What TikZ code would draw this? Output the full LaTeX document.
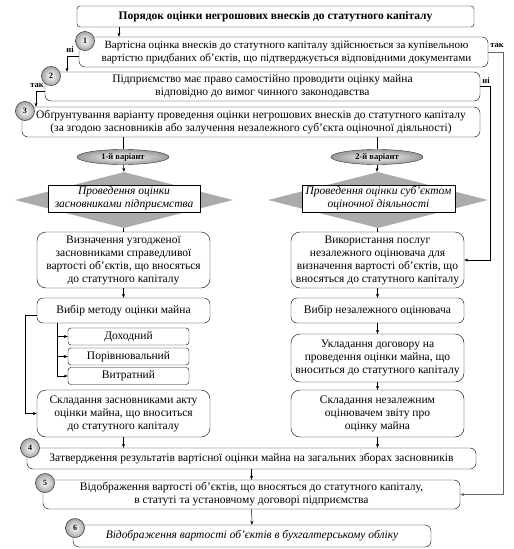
\documentclass[tikz,border=0pt]{standalone}
\usepackage{fontspec}
\setmainfont{Liberation Serif}
\usetikzlibrary{shapes.geometric,arrows.meta}
\newcommand\fsz{\fontsize{11.5}{13}\selectfont}
\begin{document}
\begin{tikzpicture}[x=1pt,y=-1pt,
  box/.style={draw, rounded corners=6pt, align=center, inner sep=0pt, font=\fsz, fill=white},
  sbox/.style={draw, rounded corners=3pt, align=center, inner sep=0pt, font=\fsz, fill=white},
  num/.style={circle, draw=black!75, line width=0.6pt, inner color=white, outer color=black!35, minimum size=19pt, inner sep=0pt, font=\fontsize{8}{9}\selectfont\bfseries},
  var/.style={ellipse, draw=black!80, inner color=white, outer color=black!40, minimum width=92pt, minimum height=15pt, inner sep=0pt, font=\fontsize{8.5}{9}\selectfont\bfseries},
  dia/.style={diamond, fill=black!33, minimum height=56pt, inner sep=0pt},
  irect/.style={draw, fill=white, align=center, inner sep=0pt, font=\fsz\itshape},
  arr/.style={-{Stealth[length=4pt,width=3pt]}, line width=0.5pt},
  ln/.style={line width=0.5pt},
  lab/.style={font=\fontsize{8.5}{9}\selectfont\bfseries, inner sep=0pt}]
\useasboundingbox (0,0) rectangle (514,549);
% top boxes
\node[sbox, minimum width=397pt, minimum height=21pt, font=\fsz\bfseries] (t) at (275.5,16.5) {Порядок оцінки негрошових внесків до статутного капіталу};
\node[box, minimum width=409pt, minimum height=30pt, font=\fontsize{11.1}{13}\selectfont] (b1) at (283.5,52) {\hspace*{6pt}Вартісна оцінка внесків до статутного капіталу здійснюється за купівельною\\\hspace*{6pt}вартістю придбаних об’єктів, що підтверджується відповідними документами};
\node[box, minimum width=435pt, minimum height=29pt] (b2) at (262.5,86.5) {Підприємство має право самостійно проводити оцінку майна\\відповідно до вимог чинного законодавства};
\node[box, minimum width=458pt, minimum height=30pt] (b3) at (251,122) {Обґрунтування варіанту проведення оцінки негрошових внесків до статутного капіталу\\(за згодою засновників або залучення незалежного суб’єкта оціночної діяльності)};
% variants
\node[var] (e1) at (123,157) {1-й варіант};
\node[var] (e2) at (377,157) {2-й варіант};
\node[dia, minimum width=218pt] (d1) at (124,200) {};
\node[dia, minimum width=220pt] (d2) at (378,200) {};
\node[irect, minimum width=152pt, minimum height=27pt] (p1) at (124,198.5) {Проведення оцінки\\засновниками підприємства};
\node[irect, minimum width=153pt, minimum height=27pt] (p2) at (378.5,198.5) {Проведення оцінки суб’єктом\\оціночної діяльності};
% left column
\node[box, rounded corners=9pt, minimum width=173pt, minimum height=56pt] (l1) at (123.5,260) {Визначення узгодженої\\засновниками справедливої\\вартості об’єктів, що вносяться\\до статутного капіталу};
\node[box, minimum width=173pt, minimum height=25pt] (l2) at (123.5,310.5) {Вибір методу оцінки майна};
\node[sbox, minimum width=121pt, minimum height=17pt] (m1) at (128.5,336.5) {Доходний};
\node[sbox, minimum width=121pt, minimum height=17pt] (m2) at (128.5,356.5) {Порівнювальний};
\node[sbox, minimum width=121pt, minimum height=17pt] (m3) at (128.5,376) {Витратний};
\node[box, rounded corners=9pt, minimum width=173pt, minimum height=47pt] (l3) at (123.5,413.5) {Складання засновниками акту\\оцінки майна, що вноситься\\до статутного капіталу};
% right column
\node[box, rounded corners=9pt, minimum width=173pt, minimum height=56pt] (r1) at (377.5,260) {Використання послуг\\незалежного оцінювача для\\визначення вартості об’єктів, що\\вносяться до статутного капіталу};
\node[box, minimum width=173pt, minimum height=25pt] (r2) at (377.5,310.5) {Вибір незалежного оцінювача};
\node[box, rounded corners=9pt, minimum width=173pt, minimum height=48pt] (r3) at (377.5,358) {Укладання договору на\\проведення оцінки майна, що\\вноситься до статутного капіталу};
\node[box, rounded corners=9pt, minimum width=173pt, minimum height=47pt] (r4) at (377.5,413.5) {Складання незалежним\\оцінювачем звіту про\\оцінку майна};
% bottom boxes
\node[box, minimum width=449pt, minimum height=21pt] (b4) at (251.5,458.5) {Затвердження результатів вартісної оцінки майна на загальних зборах засновників};
\node[box, minimum width=417pt, minimum height=29pt] (b5) at (251.5,494.5) {Відображення вартості об’єктів, що вносяться до статутного капіталу,\\в статуті та установчому договорі підприємства};
\node[box, minimum width=358pt, minimum height=22pt, font=\fsz\itshape] (b6) at (252,536) {Відображення вартості об’єктів в бухгалтерському обліку};
% number circles
\node[num] (c1) at (85,41) {1};
\node[num] (c2) at (51,76) {2};
\node[num] (c3) at (25,111) {3};
\node[num] (c4) at (30,448) {4};
\node[num] (c5) at (45,483) {5};
\node[num] (c6) at (75,528) {6};
% connectors
\coordinate (ta) at (119,27);
\draw[arr] (ta) -- (ta |- b1.north);
\coordinate (nl) at (67,56);
\draw[arr] ([yshift=-4pt]b1.west) -| (nl |- b2.north);
\node[lab] (nil) at (70,50) {ні};
\coordinate (tl) at (36,91);
\draw[arr] ([yshift=-5pt]b2.west) -| (tl |- b3.north);
\node[lab] (tak1) at (37,86) {так};
\coordinate (tr) at (503,52);
\draw[arr, draw=black!60] (b1.east) -- (tr) |- (b5.east);
\node[lab] (tak2) at (497,46) {так};
\coordinate (nr) at (490,86.5);
\draw[arr] (b2.east) -- (nr) |- (r1.east);
\node[lab] (nir) at (486,81) {ні};
\draw[ln] (b3.south -| e1) -- (e1);
\draw[ln] (b3.south -| e2) -- (e2);
\draw[arr] (e1) -- (d1.north);
\draw[arr] (e2) -- (d2.north -| e2);
\draw[ln] (d1.south -| l1) -- (l1.north);
\draw[ln] (d2.south -| r1) -- (r1.north);
\draw[arr] (l1) -- (l2);
\coordinate (vm) at (57,323);
\draw[arr] (vm) |- (m1.west);
\draw[arr] (vm) |- (m2.west);
\draw[arr] (vm) |- (m3.west);
\coordinate (lv) at (25,315);
\draw[arr] ([yshift=-4.5pt]l2.west) -- (lv) |- (l3.west);
\draw[arr] (l3) -- (l3 |- b4.north);
\draw[arr] (r1) -- (r2);
\draw[arr] (r2) -- (r3);
\draw[arr] (r3) -- (r4);
\draw[arr] (r4) -- (r4 |- b4.north);
\draw[arr] (b4) -- (b5);
\draw[arr] (b5) -- (b6);
\end{tikzpicture}
\end{document}
